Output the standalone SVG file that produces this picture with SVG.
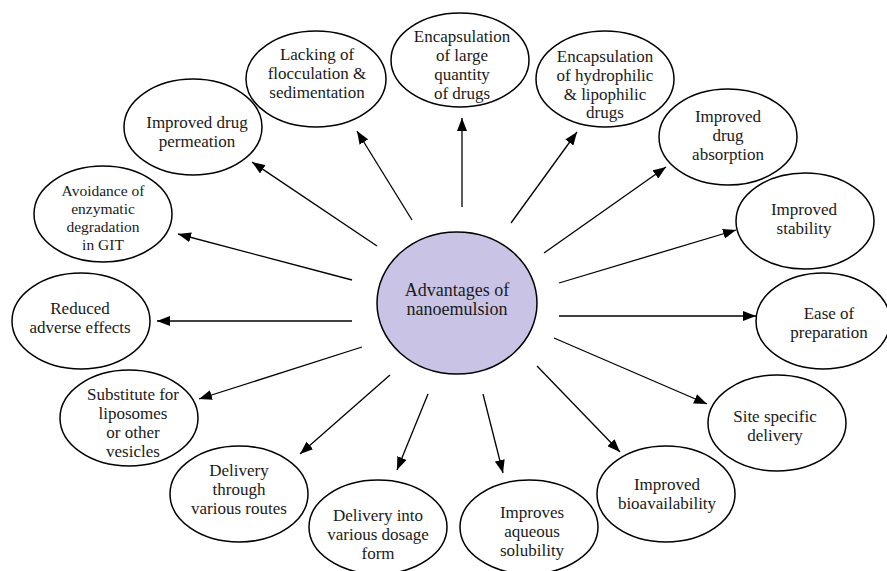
<svg xmlns="http://www.w3.org/2000/svg" width="887" height="571" viewBox="0 0 887 571">
<style>
.n ellipse{fill:#fff;stroke:#000;stroke-width:1.5}
#center ellipse{fill:#c9c4e5}
text{font-family:"Liberation Serif","Times New Roman",serif;font-size:17px;fill:#1a1a1a;text-anchor:middle}
.sm{font-size:15.5px}
#connectors line{stroke:#000;stroke-width:1.3;marker-end:url(#ah)}
</style>
<defs>
<marker id="ah" viewBox="0 0 13 10" refX="13" refY="5" markerWidth="13" markerHeight="10" markerUnits="userSpaceOnUse" orient="auto">
<path d="M0,0 L13,5 L0,10 z" fill="#000"/>
</marker>
</defs>
<rect width="887" height="571" fill="#fff"/>
<g id="connectors">
<line x1="377" y1="246" x2="252" y2="162"/>
<line x1="412" y1="220" x2="357" y2="131"/>
<line x1="462" y1="207" x2="462" y2="118"/>
<line x1="511" y1="223" x2="577" y2="132"/>
<line x1="544" y1="253" x2="666" y2="167"/>
<line x1="559" y1="283" x2="736" y2="230"/>
<line x1="559" y1="316" x2="756" y2="316"/>
<line x1="554" y1="338" x2="707" y2="404"/>
<line x1="537" y1="366" x2="620" y2="452"/>
<line x1="483" y1="394" x2="503" y2="473"/>
<line x1="428" y1="394" x2="397" y2="470"/>
<line x1="390" y1="375" x2="300" y2="454"/>
<line x1="362" y1="347" x2="199" y2="399"/>
<line x1="352" y1="321" x2="157" y2="321"/>
<line x1="352" y1="280" x2="178" y2="234"/>
</g>
<g id="center" class="n">
<ellipse cx="457" cy="303" rx="80" ry="71"/>
<text x="457" y="296" style="font-size:18px">Advantages of</text>
<text x="457" y="315" style="font-size:18px">nanoemulsion</text>
</g>
<g id="n-permeation" class="n">
<ellipse cx="193" cy="127" rx="69" ry="48"/>
<text x="197" y="128">Improved drug</text>
<text x="197" y="147">permeation</text>
</g>
<g id="n-lacking" class="n">
<ellipse cx="316" cy="79" rx="70" ry="48"/>
<text x="317" y="60">Lacking of</text>
<text x="317" y="79">flocculation &amp;</text>
<text x="317" y="98">sedimentation</text>
</g>
<g id="n-large" class="n">
<ellipse cx="460" cy="60" rx="69" ry="47"/>
<text x="462" y="42">Encapsulation</text>
<text x="462" y="61">of large</text>
<text x="462" y="80">quantity</text>
<text x="462" y="99">of drugs</text>
</g>
<g id="n-hydro" class="n">
<ellipse cx="605" cy="79" rx="69" ry="48"/>
<text x="605" y="62">Encapsulation</text>
<text x="605" y="81">of hydrophilic</text>
<text x="605" y="100">&amp; lipophilic</text>
<text x="605" y="118">drugs</text>
</g>
<g id="n-absorption" class="n">
<ellipse cx="728" cy="137" rx="69" ry="48"/>
<text x="728" y="122">Improved</text>
<text x="728" y="141">drug</text>
<text x="728" y="160">absorption</text>
</g>
<g id="n-stability" class="n">
<ellipse cx="805" cy="221" rx="69" ry="48"/>
<text x="804" y="215">Improved</text>
<text x="804" y="234">stability</text>
</g>
<g id="n-ease" class="n">
<ellipse cx="823" cy="321" rx="67" ry="48"/>
<text x="829" y="319">Ease of</text>
<text x="829" y="338">preparation</text>
</g>
<g id="n-site" class="n">
<ellipse cx="777" cy="423" rx="69" ry="48"/>
<text x="775" y="422">Site specific</text>
<text x="775" y="441">delivery</text>
</g>
<g id="n-bio" class="n">
<ellipse cx="666" cy="494" rx="69" ry="48"/>
<text x="667" y="490">Improved</text>
<text x="667" y="509">bioavailability</text>
</g>
<g id="n-aqueous" class="n">
<ellipse cx="529" cy="527" rx="69" ry="47"/>
<text x="532" y="518">Improves</text>
<text x="532" y="537">aqueous</text>
<text x="532" y="556">solubility</text>
</g>
<g id="n-dosage" class="n">
<ellipse cx="378" cy="527" rx="69" ry="47"/>
<text x="378" y="521">Delivery into</text>
<text x="378" y="540">various dosage</text>
<text x="378" y="559">form</text>
</g>
<g id="n-routes" class="n">
<ellipse cx="239" cy="494" rx="69" ry="48"/>
<text x="239" y="476">Delivery</text>
<text x="239" y="495">through</text>
<text x="239" y="514">various routes</text>
</g>
<g id="n-substitute" class="n">
<ellipse cx="129" cy="418" rx="69" ry="48"/>
<text x="133" y="400">Substitute for</text>
<text x="133" y="419">liposomes</text>
<text x="133" y="438">or other</text>
<text x="133" y="457">vesicles</text>
</g>
<g id="n-reduced" class="n">
<ellipse cx="81" cy="321" rx="69" ry="48"/>
<text x="80" y="314">Reduced</text>
<text x="80" y="333">adverse effects</text>
</g>
<g id="n-avoidance" class="n">
<ellipse cx="103" cy="214" rx="69" ry="48"/>
<text class="sm" x="103" y="196">Avoidance of</text>
<text class="sm" x="103" y="214">enzymatic</text>
<text class="sm" x="103" y="232">degradation</text>
<text class="sm" x="103" y="250">in GIT</text>
</g>
</svg>
